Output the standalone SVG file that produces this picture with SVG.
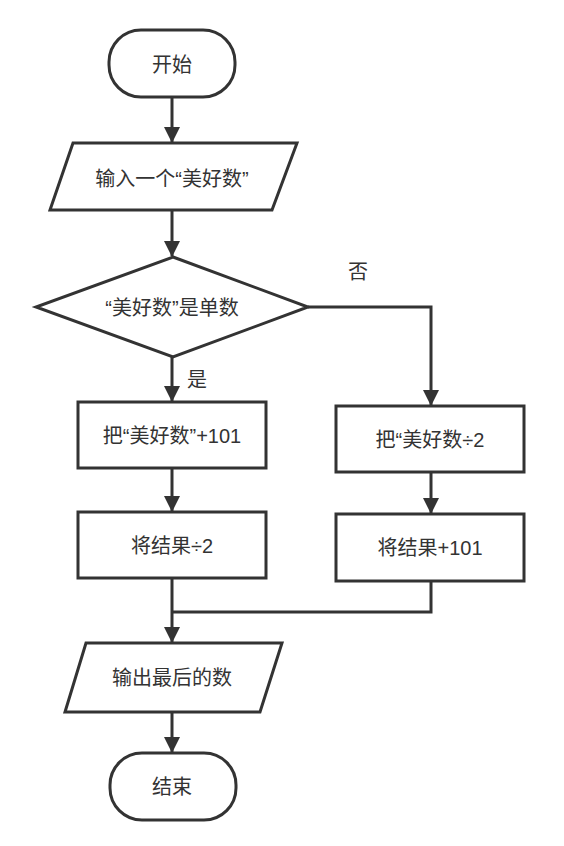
<svg xmlns="http://www.w3.org/2000/svg" width="564" height="846" viewBox="0 0 564 846">
<style>
.s{fill:#fff;stroke:#333;stroke-width:3}
.t{font-family:"Liberation Sans","Noto Sans CJK SC",sans-serif;font-size:20px;fill:#333;text-anchor:middle;dominant-baseline:central}
.c{fill:none;stroke:#333;stroke-width:3}
</style>
<defs>
<marker id="a" markerUnits="userSpaceOnUse" markerWidth="16" markerHeight="18" refX="15" refY="8" orient="auto">
<path d="M0,0 L16,8 L0,16 Z" fill="#333"/>
</marker>
</defs>
<rect width="564" height="846" fill="#fff"/>
<g id="connectors">
<path class="c" d="M172,97 V142" marker-end="url(#a)"/>
<path class="c" d="M172,210 V256" marker-end="url(#a)"/>
<path class="c" d="M172,357 V401" marker-end="url(#a)"/>
<path class="c" d="M308,307 H431 V405" marker-end="url(#a)"/>
<path class="c" d="M172,468 V511" marker-end="url(#a)"/>
<path class="c" d="M431,472 V513" marker-end="url(#a)"/>
<path class="c" d="M172,578 V642" marker-end="url(#a)"/>
<path class="c" d="M431,581 V612 H172"/>
<path class="c" d="M172,712 V752" marker-end="url(#a)"/>
<text class="t" x="358" y="272">否</text>
<text class="t" x="197" y="380">是</text>
</g>
<g id="start">
<rect class="s" x="109" y="30" width="126" height="67" rx="32" ry="32"/>
<text class="t" x="172" y="65">开始</text>
</g>
<g id="input">
<polygon class="s" points="73,143 297,143 272,210 50,210"/>
<text class="t" x="172" y="179">输入一个“美好数”</text>
</g>
<g id="decision">
<polygon class="s" points="173,257 308,307 173,357 36,307"/>
<text class="t" x="172" y="308">“美好数”是单数</text>
</g>
<g id="left1">
<rect class="s" x="78" y="402" width="188" height="66"/>
<text class="t" x="172" y="436">把“美好数”+101</text>
</g>
<g id="left2">
<rect class="s" x="78" y="512" width="188" height="66"/>
<text class="t" x="172" y="546">将结果÷2</text>
</g>
<g id="right1">
<rect class="s" x="336" y="406" width="188" height="66"/>
<text class="t" x="430" y="440">把“美好数÷2</text>
</g>
<g id="right2">
<rect class="s" x="336" y="514" width="188" height="67"/>
<text class="t" x="430" y="548">将结果+101</text>
</g>
<g id="output">
<polygon class="s" points="86,643 282,643 260,712 65,712"/>
<text class="t" x="172" y="678">输出最后的数</text>
</g>
<g id="end">
<rect class="s" x="110" y="753" width="126" height="67" rx="32" ry="32"/>
<text class="t" x="172" y="787">结束</text>
</g>
</svg>
